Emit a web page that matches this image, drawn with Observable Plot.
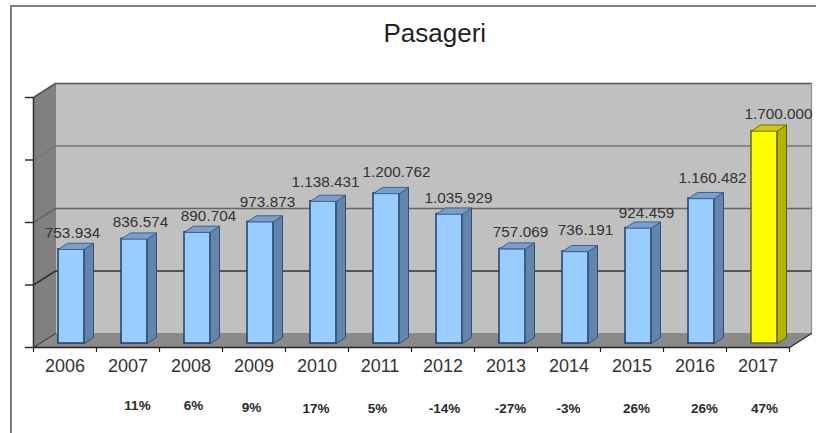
<!DOCTYPE html>
<html>
<head>
<meta charset="utf-8">
<script src="https://cdn.jsdelivr.net/npm/d3@7"></script>
<script src="https://cdn.jsdelivr.net/npm/@observablehq/plot@0.6"></script>
<style>
  html, body { margin: 0; padding: 0; background: #fff; }
  #wrap { position: relative; width: 816px; height: 433px; overflow: hidden; }
  #box { position: absolute; left: 10px; top: 5px; right: -5px; bottom: -5px;
         border-left: 2px solid #808080; border-top: 2.5px solid #808080; }
  #chart { position: absolute; left: 0; top: 0; }
</style>
</head>
<body>
<div id="wrap"><div id="box"></div><div id="chart"></div></div>
<script>
const years = [2006, 2007, 2008, 2009, 2010, 2011, 2012, 2013, 2014, 2015, 2016, 2017];
const passengers = [753934, 836574, 890704, 973873, 1138431, 1200762, 1035929, 757069, 736191, 924459, 1160482, 1700000];
const growth = ["", "11%", "6%", "9%", "17%", "5%", "-14%", "-27%", "-3%", "26%", "26%", "47%"];
const valueLabels = ["753.934", "836.574", "890.704", "973.873", "1.138.431", "1.200.762", "1.035.929", "757.069", "736.191", "924.459", "1.160.482", "1.700.000"];
const gridValues = [500000, 1000000, 1500000, 2000000];

// Conversions between pixels and scale units for the pseudo-3D look
const pxX = 1 / 63, pxY = 8000;
const wallDX = 22 * pxX, wallDY = 14 * pxY;
const barLift = 4 * pxY, barStart = 25 * pxX, barW = 26 * pxX;
const sideDX = 9 * pxX, sideDY = 6 * pxY;
const labelNudgeX = [1, 6, 11, 7, 2, 10, 9, 8, 10, 8, 11, 14];
const labelRise = [16, 17, 16, 20, 19, 21, 16, 17, 21, 15, 20, 17];
const growthNudgeX = [0, 9.5, 2.5, -2.5, -1, -2.5, 1.5, 4.5, -0.5, 4.5, 9.5, 6.5];
const growthDrop = [61, 58.5, 58, 60, 61, 61, 61, 61, 61, 61, 61, 61];
const gridColors = ["#333", "#666", "#777", "#555"];

const n = years.length;
const pts = (k, list) => list.map(([x, y]) => ({k, x, y}));
const poly = (rows, fill, stroke, strokeWidth = 1) =>
  Plot.line(rows, {x: "x", y: "y", z: "k", fill, stroke, strokeWidth, curve: "linear-closed"});
const polyline = (rows, stroke, strokeWidth = 1.5) =>
  Plot.line(rows, {x: "x", y: "y", z: "k", stroke, strokeWidth});

const bars = years.map((year, i) => {
  const x1 = i + barStart, x2 = x1 + barW, y1 = barLift, y2 = barLift + passengers[i];
  return {year, i, x1, x2, y1, y2, highlight: i === n - 1};
});
const sideOf = b => pts(b.year, [[b.x2, b.y1], [b.x2 + sideDX, b.y1 + sideDY], [b.x2 + sideDX, b.y2 + sideDY], [b.x2, b.y2]]);
const capOf = b => pts(b.year, [[b.x1, b.y2], [b.x1 + sideDX, b.y2 + sideDY], [b.x2 + sideDX, b.y2 + sideDY], [b.x2, b.y2]]);
const blue = bars.filter(b => !b.highlight), yellow = bars.filter(b => b.highlight);

const yTop = gridValues[gridValues.length - 1];
const gridMarks = gridValues.map((v, j) =>
  polyline(pts(v, [[0, v], [wallDX, v + wallDY], [n + wallDX, v + wallDY]]), gridColors[j], 1.6));

const chart = Plot.plot({
  width: 816, height: 433,
  marginLeft: 33, marginRight: 5, marginTop: 83, marginBottom: 86,
  x: {domain: [0, n + wallDX], axis: null},
  y: {domain: [0, yTop + wallDY], axis: null},
  style: {fontFamily: "'Liberation Sans', Arial, sans-serif", background: "transparent", overflow: "visible"},
  marks: [
    // walls and floor
    poly(pts("back", [[wallDX, wallDY], [n + wallDX, wallDY], [n + wallDX, yTop + wallDY], [wallDX, yTop + wallDY]]), "#c0c0c0", "#c0c0c0"),
    poly(pts("left", [[0, 0], [0, yTop], [wallDX, yTop + wallDY], [wallDX, wallDY]]), "#808080", "#808080"),
    poly(pts("floor", [[0, 0], [n, 0], [n + wallDX, wallDY], [wallDX, wallDY]]), "#8a8a8a", "#8a8a8a"),
    ...gridMarks,
    polyline(pts("wall-right", [[n + wallDX, wallDY], [n + wallDX, yTop + wallDY]]), "#8c8c8c", 1.2),
    polyline(pts("corner-right", [[n, 0], [n + wallDX, wallDY]]), "#333", 1.4),
    polyline(pts("corner-left", [[0, 0], [wallDX, wallDY]]), "#444", 1.2),
    // y axis (ticks without labels)
    Plot.axisY({ticks: [0, ...gridValues], tickSize: 8, tickFormat: () => "", stroke: "#222", strokeWidth: 1.4, label: null}),
    Plot.ruleX([0], {y1: 0, y2: yTop, stroke: "#333", strokeWidth: 1.6}),
    // x axis: boundary ticks, centred year labels
    Plot.ruleY([0], {x1: 0, x2: n, stroke: "#222", strokeWidth: 1.6}),
    Plot.axisX({ticks: d3.range(n + 1), tickSize: 5, tickFormat: () => "", stroke: "#222", strokeWidth: 1.2, label: null}),
    Plot.axisX({ticks: d3.range(n).map(i => i + 0.5), tickSize: 0, tickPadding: 12, fontSize: 18, fill: "#333",
      tickFormat: d => String(years[d - 0.5]), label: null}),
    // bars: blue
    Plot.rect(blue, {x1: "x1", x2: "x2", y1: "y1", y2: "y2", fill: "#99ccff", stroke: "#14375e", strokeWidth: 1.4}),
    poly(blue.flatMap(sideOf), "#6485ab", "#2f5079"),
    poly(blue.flatMap(capOf), "#7a9fcc", "#3c6290"),
    // bar: yellow
    Plot.rect(yellow, {x1: "x1", x2: "x2", y1: "y1", y2: "y2", fill: "#ffff00", stroke: "#5f5f10", strokeWidth: 1.4}),
    poly(yellow.flatMap(sideOf), "#b3b300", "#5f5f10"),
    poly(yellow.flatMap(capOf), "#cccc00", "#6f6f10"),
    // value labels
    Plot.text(bars, {
      x: b => b.x1 + barW / 2 + labelNudgeX[b.i] * pxX,
      y: b => b.y2 + labelRise[b.i] * pxY,
      text: b => valueLabels[b.i], fontSize: 15.3, fill: "#333"
    }),
    // growth row
    Plot.text(bars.filter(b => growth[b.i]), {
      x: b => b.i + 0.5 + growthNudgeX[b.i] * pxX,
      y: b => -growthDrop[b.i] * pxY,
      text: b => growth[b.i], fontSize: 13.5, fontWeight: "bold", fill: "#2a2a2a"
    }),
    // title
    Plot.text(["Pasageri"], {x: () => 6.37, frameAnchor: "top", dy: -60, fontSize: 26, fill: "#222"})
  ]
});
document.getElementById("chart").appendChild(chart);
</script>
</body>
</html>
